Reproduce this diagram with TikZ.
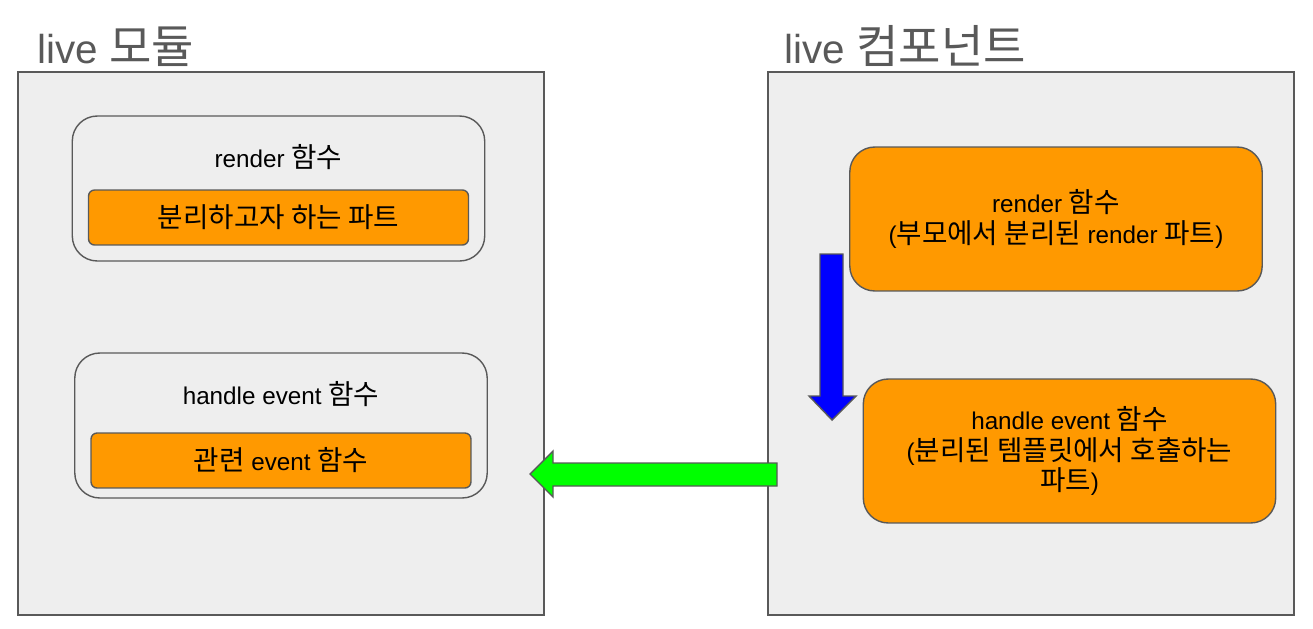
\documentclass[tikz,border=0pt]{standalone}
\usepackage{fontspec}
\setmainfont{Liberation Sans}
\newfontfamily\kr[Scale=1.14]{Noto Sans CJK KR}
\usepackage{tikz}
\usetikzlibrary{positioning}
\definecolor{panelgray}{HTML}{EEEEEE}
\definecolor{linegray}{HTML}{595959}
\definecolor{partorange}{HTML}{FF9900}

\begin{document}
\begin{tikzpicture}[x=0.02cm,y=-0.02cm,line width=0.8pt,
  panel/.style={draw=linegray,fill=panelgray,minimum width=10.52cm,minimum height=10.86cm},
  frame/.style={draw=linegray,fill=panelgray,rounded corners=0.5cm,minimum width=8.25cm,minimum height=2.9cm},
  part/.style={draw=linegray,fill=partorange,rounded corners=0.12cm,minimum width=7.6cm,minimum height=1.1cm},
  bigpart/.style={draw=linegray,fill=partorange,rounded corners=0.5cm,minimum width=8.25cm,minimum height=2.88cm,align=center},
  every node/.style={font=\fontsize{13.8}{17.2}\selectfont},
  title/.style={text=linegray,anchor=base west,font=\fontsize{23}{27}\selectfont}]
\useasboundingbox (0,0) rectangle (1313,629);
\node [panel] (module) at (281,343.5) {};
\node [panel] (component) at (1031,343.5) {};
\node [title] (modtitle) at (31,63) {live {\kr 모듈}};
\node [title] (comptitle) at (778,63) {live {\kr 컴포넌트}};
% live module
\node [frame] (render) at (278.5,188.5) {};
\node (rendername) at (278.5,157) {render {\kr 함수}};
\node [part] (split) at (278.5,217.5) {\kr 분리하고자 하는 파트};
\node [frame] (handle) at (281,425.5) {};
\node (handlename) at (281,394) {handle event {\kr 함수}};
\node [part] (event) at (281,460.5) {{\kr 관련} event {\kr 함수}};
% live component
\node [bigpart] (comprender) at (1056,219) {render {\kr 함수}\\({\kr 부모에서 분리된} render {\kr 파트})};
\node [bigpart] (comphandle) at (1069.5,451) {handle event {\kr 함수}\\({\kr 분리된 템플릿에서 호출하는}\\{\kr 파트})};
% block arrows
\draw [draw=linegray,fill=blue] (820,254) -- (843,254) -- (843,396) -- (856,396) -- (832,420) -- (809,396) -- (820,396) -- cycle;
\draw [draw=linegray,fill=green] (777,463) -- (553,463) -- (553,451) -- (530,474) -- (553,497) -- (553,486) -- (777,486) -- cycle;
\end{tikzpicture}
\end{document}
